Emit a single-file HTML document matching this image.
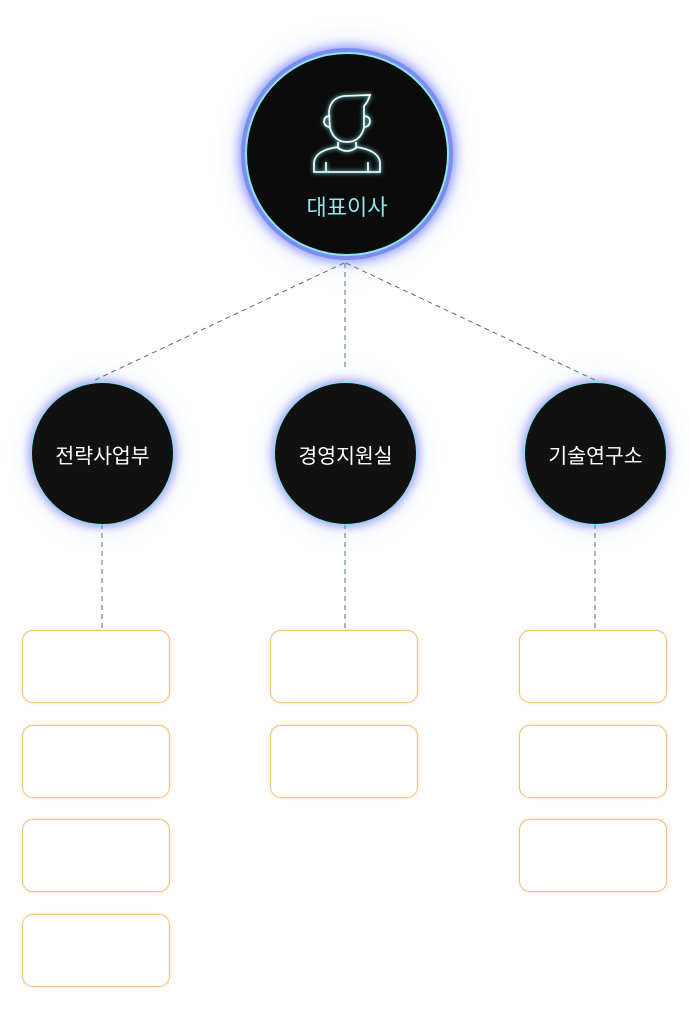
<!DOCTYPE html><html><head><meta charset="utf-8"><style>
body{margin:0;width:690px;height:1014px;background:#fff;position:relative;overflow:hidden;font-family:"Liberation Sans","Noto Sans CJK KR",sans-serif}
.c{position:absolute;border-radius:50%;background:#111;border:1px solid #7fe0e6;box-shadow:0 0 8px 3px rgba(110,120,240,.55),0 0 22px 8px rgba(150,160,240,.15);color:#fff;display:flex;align-items:center;justify-content:center;font-size:20.5px}
.b{position:absolute;width:146px;height:71px;border:1.5px solid #f6c07c;border-radius:11px;box-shadow:0 0 3px rgba(248,200,140,.6)}
</style></head><body>
<svg width="690" height="1014" style="position:absolute;left:0;top:0">
<g stroke="#4f7278" stroke-width="1" stroke-dasharray="5,4" fill="none">
<line x1="344" y1="263" x2="95" y2="380"/><line x1="345" y1="263" x2="345" y2="370"/><line x1="346" y1="263" x2="595" y2="380"/>
<line x1="102" y1="524" x2="102" y2="630"/><line x1="345" y1="524" x2="345" y2="630"/><line x1="595" y1="524" x2="595" y2="630"/>
</g></svg>
<div class="c" style="left:245px;top:52px;width:200px;height:200px;background:#0b0b0b;border:2px solid #8ce4ee;box-shadow:0 0 0 4px #7d8cf0,0 0 9px 7px rgba(110,125,245,.65),0 0 24px 11px rgba(150,160,245,.22)">
<svg width="70" height="84" viewBox="0 0 70 84" style="position:absolute;left:65px;top:38px;filter:drop-shadow(0 0 2px #8ff)" fill="none" stroke="#eef8f8" stroke-width="1.8">
<path d="M17 20 Q18 6 32 4 L58 3 Q56 10 52 14 L52 36 Q48 50 35 50 Q22 50 18 36 Z"/>
<path d="M18 24 Q12 24 12 30 Q13 35 18 35 M52 24 Q58 24 58 30 Q57 35 52 35"/>
<path d="M26 50 L26 56 Q35 62 44 56 L44 50"/>
<path d="M26 55 Q4 58 2 70 L2 80 L68 80 L68 70 Q66 58 44 55 M14 70 L14 80 M56 70 L56 80"/>
</svg>
<span style="position:absolute;top:136px;color:#8fe6ee;font-size:22px">대표이사</span></div>
<div class="c" style="left:31px;top:382px;width:141px;height:141px">전략사업부</div>
<div class="c" style="left:274px;top:382px;width:141px;height:141px">경영지원실</div>
<div class="c" style="left:524px;top:382px;width:141px;height:141px">기술연구소</div>
<div class="b" style="left:22px;top:630px"></div><div class="b" style="left:22px;top:725px"></div><div class="b" style="left:22px;top:819px"></div><div class="b" style="left:22px;top:914px"></div>
<div class="b" style="left:270px;top:630px"></div><div class="b" style="left:270px;top:725px"></div>
<div class="b" style="left:519px;top:630px"></div><div class="b" style="left:519px;top:725px"></div><div class="b" style="left:519px;top:819px"></div>
</body></html>
